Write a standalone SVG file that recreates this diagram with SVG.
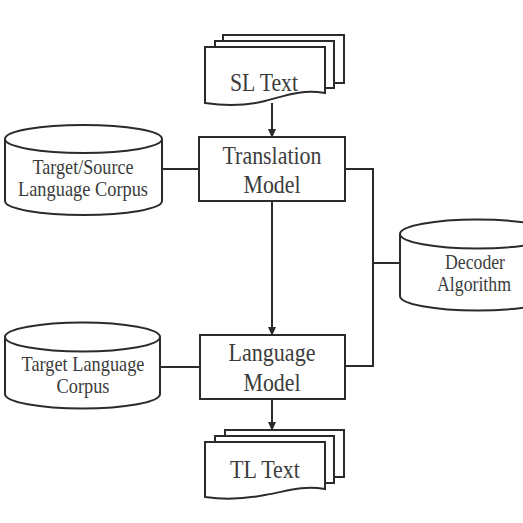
<svg xmlns="http://www.w3.org/2000/svg" width="523" height="523" viewBox="0 0 523 523">
<style>
.s{fill:#fff;stroke:#2b2b2b;stroke-width:2}
.c{fill:none;stroke:#2b2b2b;stroke-width:2}
.t{font-family:"Liberation Serif","Times New Roman",serif;fill:#3c3c3c;text-anchor:middle}
.b{font-size:26px}
.m{font-size:21px}
</style>
<defs>
<marker id="ah" markerUnits="userSpaceOnUse" markerWidth="9" markerHeight="8" refX="8" refY="4" orient="auto">
<path d="M0,0 L9,4 L0,8 Z" fill="#2b2b2b"/>
</marker>
</defs>
<rect width="523" height="523" fill="#fff"/>
<g id="connectors">
<line class="c" x1="272" y1="103" x2="272" y2="137" marker-end="url(#ah)"/>
<line class="c" x1="272" y1="201" x2="272" y2="335" marker-end="url(#ah)"/>
<line class="c" x1="272" y1="399" x2="272" y2="430" marker-end="url(#ah)"/>
<line class="c" x1="162" y1="169" x2="199" y2="169"/>
<line class="c" x1="160" y1="367" x2="200" y2="367"/>
<polyline class="c" points="345,169 373,169 373,366 345,366"/>
<line class="c" x1="373" y1="263" x2="400" y2="263"/>
</g>
<g id="sl-text">
<path class="s" d="M223,35 H344 V83 H223 Z"/>
<path class="s" d="M215,41 H334 V88 H215 Z"/>
<path class="s" d="M205,47 H325 V93 C300,89 285,96 265,101 C245,106 225,106 205,103 Z"/>
<text class="t b" x="264" y="91" textLength="68" lengthAdjust="spacingAndGlyphs">SL Text</text>
</g>
<g id="translation-model">
<rect class="s" x="199" y="137" width="146" height="64"/>
<text class="t b" x="272" y="164" textLength="99" lengthAdjust="spacingAndGlyphs">Translation</text>
<text class="t b" x="272" y="193" textLength="57" lengthAdjust="spacingAndGlyphs">Model</text>
</g>
<g id="language-model">
<rect class="s" x="200" y="335" width="145" height="64"/>
<text class="t b" x="272" y="361" textLength="87" lengthAdjust="spacingAndGlyphs">Language</text>
<text class="t b" x="272" y="391" textLength="57" lengthAdjust="spacingAndGlyphs">Model</text>
</g>
<g id="tl-text">
<path class="s" d="M225,430 H344 V477 H225 Z"/>
<path class="s" d="M215,436 H334 V483 H215 Z"/>
<path class="s" d="M205,442 H325 V489 C300,485 285,492 265,495 C245,499 225,500 205,497 Z"/>
<text class="t b" x="265" y="478" textLength="70" lengthAdjust="spacingAndGlyphs">TL Text</text>
</g>
<g id="ts-corpus">
<path class="s" d="M5,139 V201 A78.5,14 0 0 0 162,201 V139"/>
<ellipse class="s" cx="83.5" cy="139" rx="78.5" ry="14"/>
<text class="t m" x="83" y="174" textLength="101" lengthAdjust="spacingAndGlyphs">Target/Source</text>
<text class="t m" x="83" y="196" textLength="130" lengthAdjust="spacingAndGlyphs">Language Corpus</text>
</g>
<g id="tl-corpus">
<path class="s" d="M5,337 V394 A77.5,14.5 0 0 0 160,394 V337"/>
<ellipse class="s" cx="82.5" cy="337" rx="77.5" ry="14.5"/>
<text class="t m" x="83" y="371" textLength="123" lengthAdjust="spacingAndGlyphs">Target Language</text>
<text class="t m" x="83" y="393" textLength="53" lengthAdjust="spacingAndGlyphs">Corpus</text>
</g>
<g id="decoder">
<path class="s" d="M400,234 V296 A77,14.5 0 0 0 554,296 V234"/>
<ellipse class="s" cx="477" cy="234" rx="77" ry="14.5"/>
<text class="t m" x="475" y="269" textLength="60" lengthAdjust="spacingAndGlyphs">Decoder</text>
<text class="t m" x="474" y="291" textLength="74" lengthAdjust="spacingAndGlyphs">Algorithm</text>
</g>
</svg>
